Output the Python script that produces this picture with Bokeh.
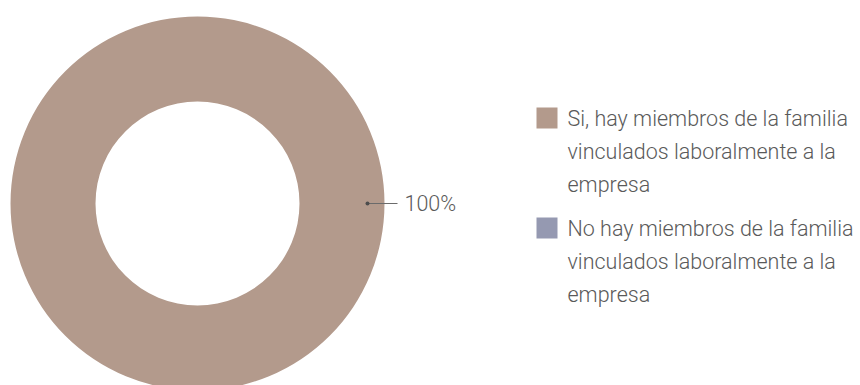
import math
from bokeh.plotting import figure
from bokeh.models import Range1d
from bokeh.core.properties import value
from bokeh.embed import file_html
from bokeh.resources import INLINE

# ---- data ----
categories = [
    "Si, hay miembros de la familia vinculados laboralmente a la empresa",
    "No hay miembros de la familia vinculados laboralmente a la empresa",
]
legend_lines = [
    ["Si, hay miembros de la familia", "vinculados laboralmente a la", "empresa"],
    ["No hay miembros de la familia", "vinculados laboralmente a la", "empresa"],
]
values = [100, 0]
colors = ["#b39a8c", "#9599b1"]
label_text = ["100%", ""]

# ---- layout ----
W, H = 860, 385
CX, CY = 197, 203
R_IN, R_OUT = 102, 187
FONT = value("Roboto Light")
TEXT_COLOR = "#5a5a5a"
FS = "21.5px"

p = figure(width=W, height=H, output_backend="svg", toolbar_location=None,
           x_range=Range1d(0, W), y_range=Range1d(H, 0),
           min_border=0, min_border_left=0, min_border_right=0,
           min_border_top=0, min_border_bottom=0)
p.axis.visible = False
p.grid.visible = False
p.outline_line_color = None
p.background_fill_color = "white"
p.border_fill_color = "white"

total = sum(values)
start = -math.pi / 2
for v, c, lab in zip(values, colors, label_text):
    if v <= 0:
        continue
    frac = v / total
    end = start + frac * 2 * math.pi
    if frac >= 0.9999:
        p.annulus(x=[CX], y=[CY], inner_radius=R_IN, outer_radius=R_OUT,
                  fill_color=c, line_color=None)
        mid = 0.0
    else:
        p.annular_wedge(x=[CX], y=[CY], inner_radius=R_IN, outer_radius=R_OUT,
                        start_angle=start, end_angle=end,
                        fill_color=c, line_color=None)
        mid = (start + end) / 2
    # leader
    r_dot = 170
    dx, dy = CX + r_dot * math.cos(mid), CY + r_dot * math.sin(mid)
    ex = dx + 30
    p.line(x=[dx, ex], y=[dy, dy], line_color="#6b6b6b", line_width=1)
    p.scatter(x=[dx], y=[dy], size=4, marker="circle",
              fill_color="#4d4d4d", line_color=None)
    p.text(x=[ex + 7], y=[dy], text=[lab], text_font=FONT,
           text_font_size=FS, text_color=TEXT_COLOR,
           text_align="left", text_baseline="middle")
    start = end

# ---- legend ----
LX_BOX, LX_TXT = 546.5, 567
LINE_H = 33
ITEM_GAP = 44
ly = 117.5
for lines, c in zip(legend_lines, colors):
    p.rect(x=[LX_BOX], y=[ly], width=21, height=21,
           fill_color=c, line_color=None)
    ys = [ly + i * LINE_H for i in range(len(lines))]
    p.text(x=[LX_TXT] * len(lines), y=ys, text=lines, text_font=FONT,
           text_font_size=FS, text_color=TEXT_COLOR,
           text_align="left", text_baseline="middle")
    ly = ys[-1] + ITEM_GAP

open("out.html", "w").write(file_html(p, INLINE))
